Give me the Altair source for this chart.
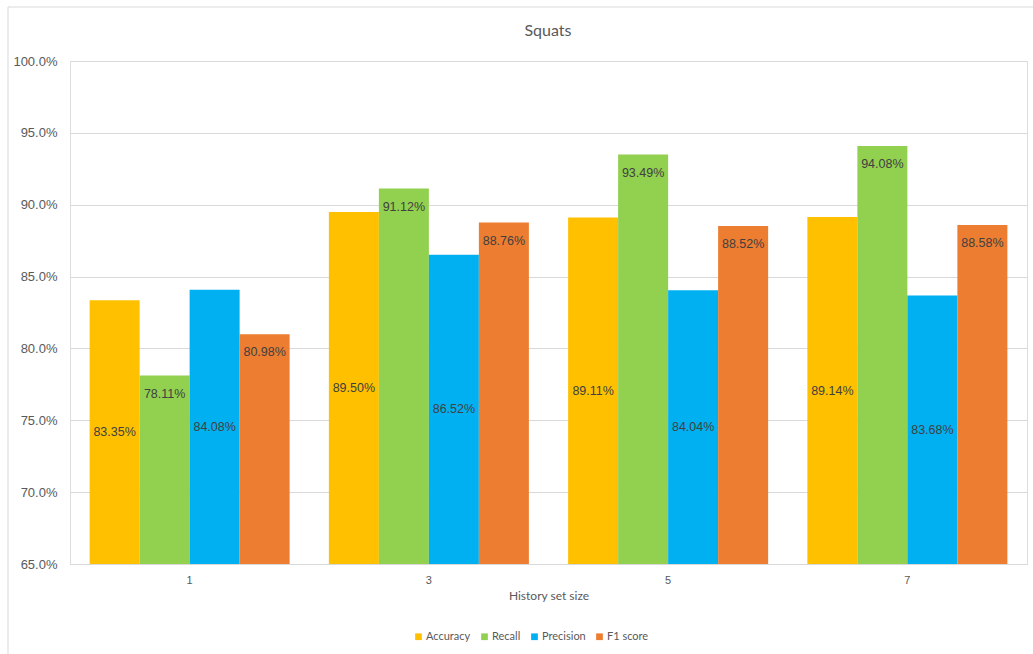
import altair as alt
import pandas as pd

# Squat classification metrics per history set size
history_sizes = ["1", "3", "5", "7"]
metrics = ["Accuracy", "Recall", "Precision", "F1 score"]
accuracy = [0.8335, 0.8950, 0.8911, 0.8914]
recall = [0.7811, 0.9112, 0.9349, 0.9408]
precision = [0.8408, 0.8652, 0.8404, 0.8368]
f1_score = [0.8098, 0.8876, 0.8852, 0.8858]
colors = ["#FFC000", "#92D050", "#00B0F0", "#ED7D31"]
chart_title = "Squats"

series = [accuracy, recall, precision, f1_score]
rows = []
for metric, values in zip(metrics, series):
    for size, v in zip(history_sizes, values):
        rows.append({"size": size, "metric": metric, "value": v})
df = pd.DataFrame(rows)
single = pd.DataFrame({"title": [chart_title]})

y_min, y_max = 0.65, 1.0
W, H = 957, 503

x_enc = alt.X("size:N", sort=history_sizes,
              scale=alt.Scale(paddingInner=0.164, paddingOuter=0.082),
              axis=alt.Axis(title="History set size", labelAngle=0,
                            labelFontSize=11, labelColor="#595959",
                            labelFont="Liberation Sans", labelPadding=10,
                            ticks=False, domainColor="#d9d9d9",
                            titleFont="Lato", titleFontSize=12,
                            titleFontWeight="normal", titleColor="#595959",
                            titlePadding=5))
y_scale = alt.Scale(domain=[y_min, y_max], nice=False, zero=False, clamp=True)
xo = alt.XOffset("metric:N", sort=metrics,
                 scale=alt.Scale(paddingInner=0, paddingOuter=0))

base = alt.Chart(df)

bars = base.mark_bar().encode(
    x=x_enc,
    xOffset=xo,
    y=alt.Y("value:Q", scale=y_scale,
            axis=alt.Axis(title=None, format=".1%", values=[0.65, 0.70, 0.75, 0.80, 0.85, 0.90, 0.95, 1.0],
                          labelFontSize=13, labelColor="#595959",
                          labelFont="Liberation Sans", labelPadding=13,
                          ticks=False, domain=False, gridColor="#d9d9d9",
                          gridWidth=1)),
    y2=alt.datum(y_min),
    color=alt.Color("metric:N", sort=metrics,
                    scale=alt.Scale(domain=metrics, range=colors),
                    legend=alt.Legend(title=None, orient="none",
                                      direction="horizontal",
                                      legendX=343, legendY=570,
                                      symbolType="square", symbolSize=45,
                                      symbolStrokeWidth=0,
                                      labelFont="Lato", labelFontSize=11,
                                      labelColor="#595959", columnPadding=8,
                                      labelOffset=2)),
)

label_style = dict(fontSize=12.5, font="Liberation Sans", color="#404040")

# Accuracy and precision labels sit in the middle of their bars
mid_labels = base.transform_filter(
    alt.FieldOneOfPredicate(field="metric", oneOf=["Accuracy", "Precision"])
).transform_calculate(
    mid=f"(datum.value + {y_min}) / 2"
).mark_text(baseline="middle", **label_style).encode(
    x=alt.X("size:N", sort=history_sizes),
    xOffset=xo,
    y=alt.Y("mid:Q", scale=y_scale),
    text=alt.Text("value:Q", format=".2%"),
)

# Recall and F1 labels sit just inside the top of their bars
end_labels = base.transform_filter(
    alt.FieldOneOfPredicate(field="metric", oneOf=["Recall", "F1 score"])
).mark_text(baseline="middle", dy=18, **label_style).encode(
    x=alt.X("size:N", sort=history_sizes),
    xOffset=xo,
    y=alt.Y("value:Q", scale=y_scale),
    text=alt.Text("value:Q", format=".2%"),
)

# Chart title, centred over the plot
title_mark = alt.Chart(single).mark_text(
    font="Lato", fontSize=16, color="#595959",
    baseline="middle", align="center"
).encode(x=alt.value(W / 2 - 0.5), y=alt.value(-30), text="title:N")

# Thin frame around the chart area
frame_left = alt.Chart(single).mark_rule(color="#d9d9d9", strokeWidth=1).encode(
    x=alt.value(-62), y=alt.value(-54), y2=alt.value(H + 100))
frame_top = alt.Chart(single).mark_rule(color="#d9d9d9", strokeWidth=1).encode(
    x=alt.value(-62), x2=alt.value(W + 20), y=alt.value(-54))

chart = alt.layer(frame_left, frame_top, bars, mid_labels, end_labels,
                  title_mark).properties(
    width=W, height=H,
    autosize=alt.AutoSizeParams(type="none"),
    padding={"left": 70, "top": 61, "right": 6, "bottom": 90},
).configure_view(stroke=None).configure(background="white")

chart.save("out.html", embed_options={"renderer": "svg", "actions": False})
